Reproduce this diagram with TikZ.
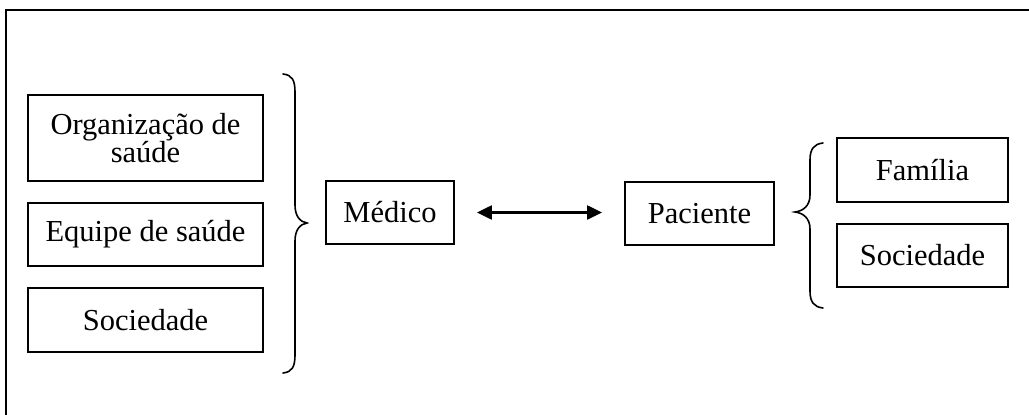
\documentclass[tikz,border=0pt]{standalone}
\usepackage{fontspec}
\setmainfont{Liberation Serif}
\usetikzlibrary{arrows.meta}
\begin{document}
\begin{tikzpicture}[x=1pt,y=-1pt,
  box/.style={draw, line width=1.8pt, inner sep=0pt, align=center,
    font=\fontsize{30.5}{25}\selectfont},
  brace/.style={line width=1.6pt, line cap=round},
  link/.style={line width=2.2pt, {Triangle[length=15pt,width=14pt]}-{Triangle[length=15pt,width=14pt]}, shorten <=22pt, shorten >=22pt}]
\useasboundingbox (0,0) rectangle (1029,415);
% frame (top and left edges)
\draw[line width=2.4pt] (6,420) -- (6,10) -- (1035,10);
% left column
\node[box, minimum width=235pt, minimum height=86pt] (org) at (145.5,138) {Organização de\\saúde};
\node[box, minimum width=235pt, minimum height=63pt] (equipe) at (145.5,234.5) {Equipe de saúde};
\node[box, minimum width=235pt, minimum height=64pt] (soc1) at (145.5,320) {Sociedade};
% centre
\node[box, minimum width=128pt, minimum height=63pt] (medico) at (390,212.5) {Médico};
\node[box, minimum width=149pt, minimum height=63pt] (paciente) at (699.5,213.5) {Paciente};
\draw[link] (medico.east) -- (paciente.west |- medico.east);
% right column
\node[box, minimum width=171pt, minimum height=64pt] (familia) at (922.5,170) {Família};
\node[box, minimum width=171pt, minimum height=63pt] (soc2) at (922.5,255.5) {Sociedade};
% left brace  }
\draw[brace] (283,74) .. controls (292,75) and (295,80) .. (295,92)
  -- (295,205) .. controls (295,216) and (300,222) .. (307,223)
  .. controls (300,224) and (295,230) .. (295,241)
  -- (295,355) .. controls (295,367) and (292,372) .. (283,373);
% right brace  {
\draw[brace] (823,143) .. controls (814,144) and (810,149) .. (810,160)
  -- (810,195) .. controls (810,206) and (803,211) .. (795,212)
  .. controls (803,213) and (810,218) .. (810,229)
  -- (810,291) .. controls (810,302) and (814,307) .. (823,308);
\end{tikzpicture}
\end{document}
